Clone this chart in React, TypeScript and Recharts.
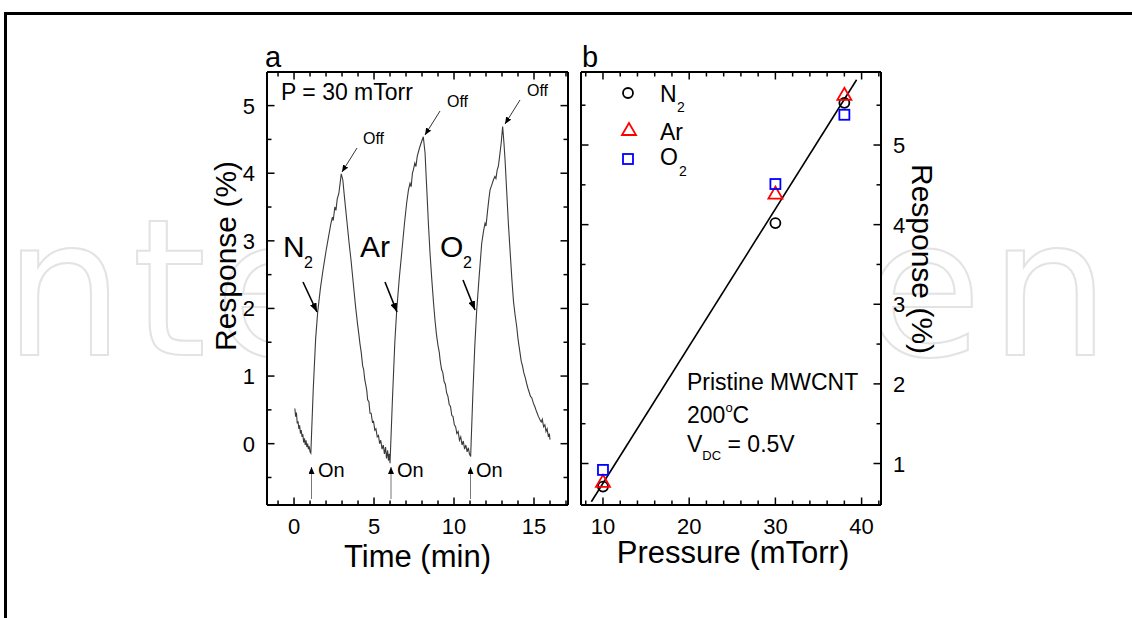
import React from 'react'
import { LineChart, ComposedChart, Line, Scatter, XAxis, YAxis } from 'recharts'

const W = 1132
const H = 618
const FONT = '"Liberation Sans", Arial, Helvetica, sans-serif'

// panel a: response vs time, P = 30 mTorr
const timeMin = [
  0.05, 0.1, 0.15, 0.2, 0.25, 0.3, 0.35, 0.4, 0.45, 0.5, 0.55, 0.6, 0.65, 0.7, 0.75, 0.8, 0.85, 0.9, 0.95, 1.0, 1.05,
  1.2, 1.35, 1.48, 1.65, 1.8, 2.0, 2.15, 2.3, 2.4, 2.45, 2.55, 2.62, 2.7, 2.8, 2.88, 2.95,
  3.05, 3.15, 3.3, 3.45, 3.56, 3.7, 3.85, 3.98, 4.05, 4.12, 4.2, 4.29, 4.35, 4.42, 4.5, 4.55, 4.6, 4.68, 4.75, 4.82,
  4.9, 4.97, 5.05, 5.12, 5.2, 5.28, 5.35, 5.42, 5.5, 5.58, 5.65, 5.72, 5.78, 5.85, 5.9, 5.95, 6.0,
  6.15, 6.3, 6.42, 6.58, 6.73, 6.9, 7.04, 7.15, 7.25, 7.32, 7.4, 7.46, 7.55, 7.62, 7.7, 7.85, 7.95, 8.08,
  8.19, 8.3, 8.4, 8.5, 8.62, 8.72, 8.81, 8.9, 9.0, 9.08, 9.13, 9.22, 9.3, 9.38, 9.46, 9.54, 9.62, 9.7, 9.78, 9.86,
  9.94, 10.02, 10.1, 10.18, 10.26, 10.34, 10.42, 10.5, 10.58, 10.66, 10.74, 10.82, 10.9, 10.96, 11.04,
  11.18, 11.3, 11.42, 11.58, 11.73, 11.85, 11.94, 12.0, 12.04, 12.1, 12.18, 12.25, 12.35, 12.46, 12.55, 12.62, 12.7,
  12.77, 12.85, 12.95, 13.04,
  13.12, 13.19, 13.3, 13.4, 13.5, 13.62, 13.72, 13.82, 13.92, 14.0, 14.06, 14.13, 14.2, 14.28, 14.36, 14.45, 14.54,
  14.62, 14.7, 14.78, 14.86, 14.96, 15.05, 15.12, 15.2, 15.28, 15.38, 15.45, 15.52, 15.6, 15.68, 15.75, 15.82, 15.9,
  15.96, 16.0,
]
const respA = [
  0.52, 0.4, 0.46, 0.3, 0.33, 0.22, 0.27, 0.15, 0.2, 0.1, 0.14, 0.02, 0.08, -0.02, 0.05, -0.05, 0.0, -0.08, -0.04, -0.12, -0.14,
  0.8, 1.55, 1.95, 2.3, 2.55, 2.85, 3.05, 3.25, 3.35, 3.3, 3.5, 3.45, 3.62, 3.7, 3.85, 3.99,
  3.9, 3.65, 3.3, 2.95, 2.72, 2.38, 2.02, 1.75, 1.62, 1.48, 1.35, 1.15, 1.1, 0.95, 0.85, 0.78, 0.65, 0.62, 0.45, 0.45,
  0.32, 0.33, 0.2, 0.22, 0.1, 0.12, 0.0, 0.05, -0.08, -0.02, -0.15, -0.05, -0.22, -0.1, -0.25, -0.15, -0.29,
  0.65, 1.5, 1.98, 2.45, 2.82, 3.25, 3.56, 3.75, 3.85, 3.8, 4.0, 4.05, 4.15, 4.1, 4.25, 4.38, 4.45, 4.54,
  4.3, 3.75, 3.25, 2.82, 2.4, 2.08, 1.83, 1.62, 1.45, 1.35, 1.24, 1.1, 1.05, 0.92, 0.88, 0.75, 0.7, 0.58, 0.55, 0.42,
  0.4, 0.28, 0.25, 0.15, 0.18, 0.05, 0.1, -0.02, 0.04, -0.08, -0.02, -0.12, -0.06, -0.15, -0.19,
  0.75, 1.45, 1.98, 2.5, 2.96, 3.15, 3.26, 3.22, 3.31, 3.45, 3.62, 3.75, 3.82, 3.9, 3.95, 3.92, 4.05,
  4.1, 4.25, 4.45, 4.69,
  4.45, 4.2, 3.7, 3.25, 2.87, 2.42, 2.1, 1.9, 1.73, 1.55, 1.45, 1.34, 1.22, 1.15, 1.05, 0.98, 0.89,
  0.82, 0.76, 0.7, 0.68, 0.6, 0.55, 0.5, 0.45, 0.4, 0.35, 0.32, 0.36, 0.25, 0.28, 0.18, 0.22, 0.1,
  0.15, 0.06,
]
const aXMajor = [0, 5, 10, 15]
const aXMinor = [-1, 1, 2, 3, 4, 6, 7, 8, 9, 11, 12, 13, 14, 16, 17]
const aYMajor = [0, 1, 2, 3, 4, 5]
const aYMinor = [-0.5, 0.5, 1.5, 2.5, 3.5, 4.5]

// panel b: response vs pressure
const pressure = [10, 30, 38]
const respN2 = [0.71, 4.02, 5.53]
const respAr = [0.77, 4.39, 5.63]
const respO2 = [0.92, 4.51, 5.38]
const fitP = [8.65, 39.42]
const fitR = [0.52, 5.82]
const bXMajor = [10, 20, 30, 40]
const bXMinor = [8, 12, 14, 16, 18, 22, 24, 26, 28, 32, 34, 36, 38, 42]
const bYMajor = [1, 2, 3, 4, 5]
const bYMinor = [1.5, 2.5, 3.5, 4.5, 5.5]

const A = { left: 267, right: 568, top: 72, bottom: 505 }
const B = { left: 581, right: 881, top: 72, bottom: 505 }

const axisStroke = { stroke: '#000', strokeWidth: 2 }

type Side = 'top' | 'bottom' | 'left' | 'right'

// draws an inward tick, long for majors; label outside only when asked
function makeTick(side: Side, majors: number[], labels: boolean) {
  return (props: any) => {
    const { x, y, payload } = props
    const v = payload.value
    const major = majors.includes(v)
    const len = major ? 7.5 : 4.5
    let line
    if (side === 'bottom') line = <line x1={x} y1={y} x2={x} y2={y - len} />
    else if (side === 'top') line = <line x1={x} y1={y} x2={x} y2={y + len} />
    else if (side === 'left') line = <line x1={x} y1={y} x2={x + len} y2={y} />
    else line = <line x1={x} y1={y} x2={x - len} y2={y} />
    let label = null
    if (labels && major) {
      const common = { fontSize: 22, fill: '#000', fontFamily: FONT, stroke: 'none' }
      if (side === 'bottom') label = <text x={x} y={y + 29} textAnchor="middle" {...common}>{v}</text>
      else if (side === 'left') label = <text x={x - 12} y={y + 8} textAnchor="end" {...common}>{v}</text>
      else label = <text x={x + 12} y={y + 8} textAnchor="start" {...common}>{v}</text>
    }
    return (
      <g stroke="#000" strokeWidth={1.5}>
        {line}
        {label}
      </g>
    )
  }
}

function frame(
  xKey: string,
  yKey: string,
  xDom: number[],
  yDom: number[],
  xMaj: number[],
  xMin: number[],
  yMaj: number[],
  yMin: number[],
  yLabelSide: 'left' | 'right'
) {
  const common = { type: 'number' as const, allowDataOverflow: true, tickSize: 0, tickMargin: 0, tickLine: false, interval: 0 as const }
  const other = yLabelSide === 'left' ? 'right' : 'left'
  const xt = [...xMaj, ...xMin]
  const yt = [...yMaj, ...yMin]
  return [
    <XAxis key="xb" xAxisId="x" dataKey={xKey} {...common} domain={xDom} ticks={xt} height={1}
      orientation="bottom" tick={makeTick('bottom', xMaj, true)} axisLine={axisStroke} />,
    <XAxis key="xt" xAxisId="xt" dataKey={xKey} {...common} domain={xDom} ticks={xt} height={1}
      orientation="top" tick={makeTick('top', xMaj, false)} axisLine={axisStroke} />,
    <YAxis key="yl" yAxisId="y" dataKey={yKey} {...common} domain={yDom} ticks={yt} width={1}
      orientation={yLabelSide} tick={makeTick(yLabelSide, yMaj, true)} axisLine={axisStroke} />,
    <YAxis key="yr" yAxisId="yr" dataKey={yKey} {...common} domain={yDom} ticks={yt} width={1}
      orientation={other} tick={makeTick(other, yMaj, false)} axisLine={axisStroke} />,
  ]
}

const circleShape = (p: any) => <circle cx={p.cx} cy={p.cy} r={5} fill="none" stroke="#000" strokeWidth={1.8} />
const triShape = (p: any) => (
  <polygon
    points={`${p.cx},${p.cy - 7} ${p.cx - 7},${p.cy + 5} ${p.cx + 7},${p.cy + 5}`}
    fill="none"
    stroke="#ff0000"
    strokeWidth={1.8}
  />
)
const squareShape = (p: any) => (
  <rect x={p.cx - 5} y={p.cy - 5} width={10} height={10} fill="none" stroke="#0000ff" strokeWidth={1.8} />
)

const abs: React.CSSProperties = { position: 'absolute', left: 0, top: 0 }

export default function App() {
  const trace = timeMin.map((t, i) => ({ t, r: respA[i] }))
  const n2 = pressure.map((p, i) => ({ p, r: respN2[i] }))
  const ar = pressure.map((p, i) => ({ p, r: respAr[i] }))
  const o2 = pressure.map((p, i) => ({ p, r: respO2[i] }))
  const fit = fitP.map((p, i) => ({ p, r: fitR[i] }))

  return (
    <div style={{ ...abs, width: W, height: H, background: '#fff', fontFamily: FONT, overflow: 'hidden' }}>
      {/* background: watermark, plot fills, page frame */}
      <svg width={W} height={H} style={abs}>
        <text x={-60} y={355} fontSize={190} fontFamily='"DejaVu Sans", sans-serif' fill="none" stroke="#e3e3e3"
          strokeWidth={2} textLength={1170} lengthAdjust="spacing">
          IntechOpen
        </text>
        <rect x={A.left} y={A.top} width={A.right - A.left} height={A.bottom - A.top} fill="#fff" />
        <rect x={B.left} y={B.top} width={B.right - B.left} height={B.bottom - B.top} fill="#fff" />
        <line x1={4} y1={13.5} x2={W} y2={13.5} stroke="#000" strokeWidth={3} />
        <line x1={5.5} y1={12} x2={5.5} y2={H} stroke="#000" strokeWidth={3} />
      </svg>

      <div style={abs}>
        <LineChart width={W} height={H} data={trace}
          margin={{ top: A.top - 1, left: A.left - 1, right: W - A.right - 1, bottom: H - A.bottom - 1 }}>
          {frame('t', 'r', [-1.69, 17.125], [-0.907, 5.497], aXMajor, aXMinor, aYMajor, aYMinor, 'left')}
          <Line xAxisId="x" yAxisId="y" type="linear" dataKey="r" stroke="#3a3a3a" strokeWidth={1.1} dot={false}
            isAnimationActive={false} />
          <Line xAxisId="xt" yAxisId="yr" type="linear" dataKey="r" stroke="none" dot={false}
            isAnimationActive={false} />
        </LineChart>
      </div>

      <div style={abs}>
        <ComposedChart width={W} height={H}
          margin={{ top: B.top - 1, left: B.left - 1, right: W - B.right - 1, bottom: H - B.bottom - 1 }}>
          {frame('p', 'r', [7.45, 42.25], [0.479, 5.917], bXMajor, bXMinor, bYMajor, bYMinor, 'right')}
          <Line xAxisId="x" yAxisId="y" data={fit} type="linear" dataKey="r" stroke="#000" strokeWidth={1.6}
            dot={false} isAnimationActive={false} />
          <Line xAxisId="xt" yAxisId="yr" data={fit} type="linear" dataKey="r" stroke="none" dot={false}
            isAnimationActive={false} />
          <Scatter xAxisId="x" yAxisId="y" data={n2} dataKey="r" shape={circleShape} isAnimationActive={false} />
          <Scatter xAxisId="x" yAxisId="y" data={ar} dataKey="r" shape={triShape} isAnimationActive={false} />
          <Scatter xAxisId="x" yAxisId="y" data={o2} dataKey="r" shape={squareShape} isAnimationActive={false} />
        </ComposedChart>
      </div>

      {/* annotations */}
      <svg width={W} height={H} style={{ ...abs, pointerEvents: 'none' }} fontFamily={FONT} fill="#000">
        <defs>
          <marker id="ah" markerWidth={9} markerHeight={7} refX={9} refY={3.5} orient="auto" markerUnits="userSpaceOnUse">
            <path d="M0,0 L9,3.5 L0,7 z" fill="#000" />
          </marker>
          <marker id="ahs" markerWidth={7} markerHeight={6} refX={7} refY={3} orient="auto" markerUnits="userSpaceOnUse">
            <path d="M0,0 L7,3 L0,6 z" fill="#000" />
          </marker>
        </defs>

        <text x={265} y={67} fontSize={29}>a</text>
        <text x={582} y={67} fontSize={29}>b</text>

        <text x={281} y={100} fontSize={23}>P = 30 mTorr</text>

        <text transform="translate(236,256) rotate(-90)" textAnchor="middle" fontSize={30}>Response (%)</text>
        <text transform="translate(912,259) rotate(90)" textAnchor="middle" fontSize={30}>Response (%)</text>
        <text x={417.5} y={567} textAnchor="middle" fontSize={31}>Time (min)</text>
        <text x={733} y={563} textAnchor="middle" fontSize={31}>Pressure (mTorr)</text>

        {/* gas labels */}
        <text x={283} y={257} fontSize={30}>N</text>
        <text x={304} y={268} fontSize={16}>2</text>
        <text x={360} y={257} fontSize={30}>Ar</text>
        <text x={440} y={257} fontSize={30}>O</text>
        <text x={463} y={268} fontSize={16}>2</text>
        <line x1={303} y1={282} x2={317} y2={312} stroke="#000" strokeWidth={1.6} markerEnd="url(#ah)" />
        <line x1={385} y1={282} x2={397} y2={312} stroke="#000" strokeWidth={1.6} markerEnd="url(#ah)" />
        <line x1={463} y1={280} x2={475} y2={310} stroke="#000" strokeWidth={1.6} markerEnd="url(#ah)" />

        {/* Off markers */}
        <line x1={357} y1={148} x2={342} y2={172} stroke="#333" strokeWidth={1} markerEnd="url(#ahs)" />
        <line x1={440} y1={111} x2={425} y2={135} stroke="#333" strokeWidth={1} markerEnd="url(#ahs)" />
        <line x1={520} y1={100} x2={505} y2={124} stroke="#333" strokeWidth={1} markerEnd="url(#ahs)" />
        <text x={363} y={144} fontSize={16}>Off</text>
        <text x={447} y={107} fontSize={16}>Off</text>
        <text x={527} y={96} fontSize={16}>Off</text>

        {/* On markers */}
        <line x1={311.5} y1={499} x2={311.5} y2={467} stroke="#777" strokeWidth={1} markerEnd="url(#ahs)" />
        <line x1={391} y1={499} x2={391} y2={467} stroke="#777" strokeWidth={1} markerEnd="url(#ahs)" />
        <line x1={470.5} y1={499} x2={470.5} y2={467} stroke="#777" strokeWidth={1} markerEnd="url(#ahs)" />
        <text x={318} y={477} fontSize={20}>On</text>
        <text x={397} y={477} fontSize={20}>On</text>
        <text x={476} y={477} fontSize={20}>On</text>

        {/* legend b */}
        <circle cx={628} cy={93} r={5} fill="none" stroke="#000" strokeWidth={1.8} />
        <polygon points="629,123 622,135 636,135" fill="none" stroke="#ff0000" strokeWidth={1.8} />
        <rect x={623} y={154} width={10} height={10} fill="none" stroke="#0000ff" strokeWidth={1.8} />
        <text x={660} y={102} fontSize={23}>N</text>
        <text x={677} y={112} fontSize={14}>2</text>
        <text x={660} y={140} fontSize={23}>Ar</text>
        <text x={660} y={165} fontSize={23}>O</text>
        <text x={679} y={176} fontSize={14}>2</text>

        {/* conditions b */}
        <text x={687} y={390} fontSize={23}>Pristine MWCNT</text>
        <text x={687} y={423} fontSize={23}>
          200<tspan fontSize={13} dy={-11}>o</tspan><tspan dy={11}>C</tspan>
        </text>
        <text x={687} y={452} fontSize={23}>
          V<tspan fontSize={13} dy={8}>DC</tspan><tspan dy={-8}> = 0.5V</tspan>
        </text>
      </svg>
    </div>
  )
}
